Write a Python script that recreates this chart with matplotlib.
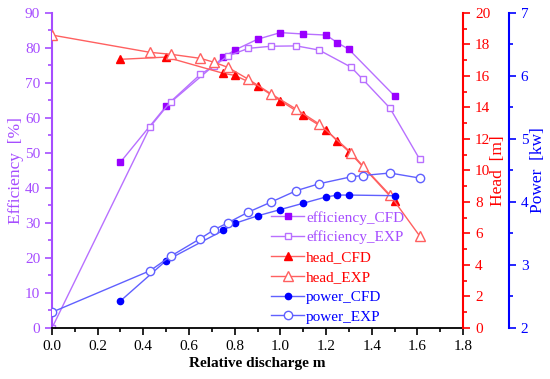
import matplotlib
matplotlib.use("Agg")
import matplotlib.pyplot as plt
from matplotlib.ticker import MultipleLocator

plt.rcParams['font.family'] = ['Liberation Serif', 'DejaVu Serif']
plt.rcParams['font.size'] = 11

# CFD operating points
q_cfd = [0.30, 0.50, 0.75, 0.80, 0.90, 1.00, 1.10, 1.20, 1.25, 1.30, 1.50]
eff_cfd = [47.4, 63.4, 77.3, 79.4, 82.5, 84.4, 84.0, 83.7, 81.5, 79.6, 66.3]
head_cfd = [17.06, 17.2, 16.17, 16.04, 15.37, 14.43, 13.5, 12.6, 11.85, 11.2, 8.06]
power_cfd = [2.43, 3.07, 3.55, 3.66, 3.78, 3.88, 3.98, 4.08, 4.11, 4.11, 4.10]

# experiment points
q_exp = [0.0, 0.43, 0.52, 0.65, 0.71, 0.77, 0.86, 0.96, 1.07, 1.17, 1.31, 1.36, 1.48, 1.61]
eff_exp = [0.0, 57.5, 64.7, 72.5, 74.9, 77.7, 79.9, 80.5, 80.6, 79.4, 74.5, 71.1, 62.8, 48.2]
head_exp = [18.6, 17.5, 17.38, 17.12, 16.87, 16.55, 15.79, 14.86, 13.89, 12.95, 11.13, 10.3, 8.44, 5.84]
power_exp = [2.25, 2.91, 3.14, 3.42, 3.56, 3.67, 3.84, 4.0, 4.18, 4.29, 4.40, 4.42, 4.46, 4.38]

purple = '#9900FF'
purple_t = '#A64DFF'
purple_l = '#B870FF'
red = '#FF0000'
red_l = '#FF6060'
blue = '#0000FF'
blue_l = '#6060FF'

fig = plt.figure(figsize=(5.5, 3.79), dpi=100)
ax = fig.add_axes([0.0945, 0.1346, 0.7475, 0.8311])
ax2 = ax.twinx()
ax3 = ax.twinx()
ax3.spines['right'].set_position(('outward', 33))

l1, = ax.plot(q_cfd, eff_cfd, '-s', color=purple_l, mfc=purple, mec=purple, ms=4.5, lw=1, label='efficiency_CFD')
l2, = ax.plot(q_exp, eff_exp, '-s', color=purple_l, mfc='white', mec=purple_l, ms=5, lw=1, label='efficiency_EXP')
l3, = ax2.plot(q_cfd, head_cfd, '-^', color=red_l, mfc=red, mec=red, ms=6, lw=1, label='head_CFD')
l4, = ax2.plot(q_exp, head_exp, '-^', color=red_l, mfc='white', mec=red_l, ms=6.5, lw=1, label='head_EXP')
l5, = ax3.plot(q_cfd, power_cfd, '-o', color=blue_l, mfc=blue, mec=blue, ms=4.5, lw=1, label='power_CFD')
l6, = ax3.plot(q_exp, power_exp, '-o', color=blue_l, mfc='white', mec=blue_l, ms=6, lw=1, label='power_EXP')

ax.set_xlim(0, 1.8)
ax.set_ylim(0, 90)
ax2.set_ylim(0, 20)
ax3.set_ylim(2, 7)

ax.xaxis.set_major_locator(MultipleLocator(0.2))
ax.xaxis.set_minor_locator(MultipleLocator(0.1))
ax.yaxis.set_major_locator(MultipleLocator(10))
ax.yaxis.set_minor_locator(MultipleLocator(5))
ax2.yaxis.set_major_locator(MultipleLocator(2))
ax2.yaxis.set_minor_locator(MultipleLocator(1))
ax3.yaxis.set_major_locator(MultipleLocator(1))
ax3.yaxis.set_minor_locator(MultipleLocator(0.5))
ax.xaxis.set_major_formatter(matplotlib.ticker.FormatStrFormatter('%.1f'))

for a in (ax, ax2, ax3):
    a.spines['top'].set_visible(False)
    a.tick_params(which='major', direction='out', length=5, width=1.2)
    a.tick_params(which='minor', direction='out', length=3, width=1.2)

ax.spines['right'].set_visible(False)
ax.spines['bottom'].set_linewidth(1.3)
ax2.spines['left'].set_visible(False)
ax2.spines['bottom'].set_visible(False)
ax3.spines['left'].set_visible(False)
ax3.spines['bottom'].set_visible(False)

ax.spines['left'].set_color(purple_t)
ax.spines['left'].set_linewidth(1.5)
ax.tick_params(axis='y', which='both', colors=purple_t)
ax2.spines['right'].set_color(red)
ax2.spines['right'].set_linewidth(1.5)
ax2.tick_params(axis='y', which='both', colors=red)
ax3.spines['right'].set_color(blue)
ax3.spines['right'].set_linewidth(1.5)
ax3.tick_params(axis='y', which='both', colors=blue)

ax.set_xlabel('Relative discharge m', fontweight='bold', labelpad=3)
ax.set_ylabel('Efficiency  [%]', color=purple_t, fontsize=12.5, labelpad=1)
ax2.set_ylabel('Head  [m]', color=red, fontsize=12.5, labelpad=0)
ax3.set_ylabel('Power  [kw]', color=blue, fontsize=12.5, labelpad=1)

leg = ax3.legend(handles=[l1, l2, l3, l4, l5, l6], loc='lower right',
                 bbox_to_anchor=(0.89, -0.03), frameon=False, fontsize=11,
                 handlelength=2.2, handletextpad=0.1, labelspacing=0.4)
for txt, c in zip(leg.get_texts(), [purple_t, purple_t, red, red, blue, blue]):
    txt.set_color(c)

fig.savefig('out.png', dpi=100)
